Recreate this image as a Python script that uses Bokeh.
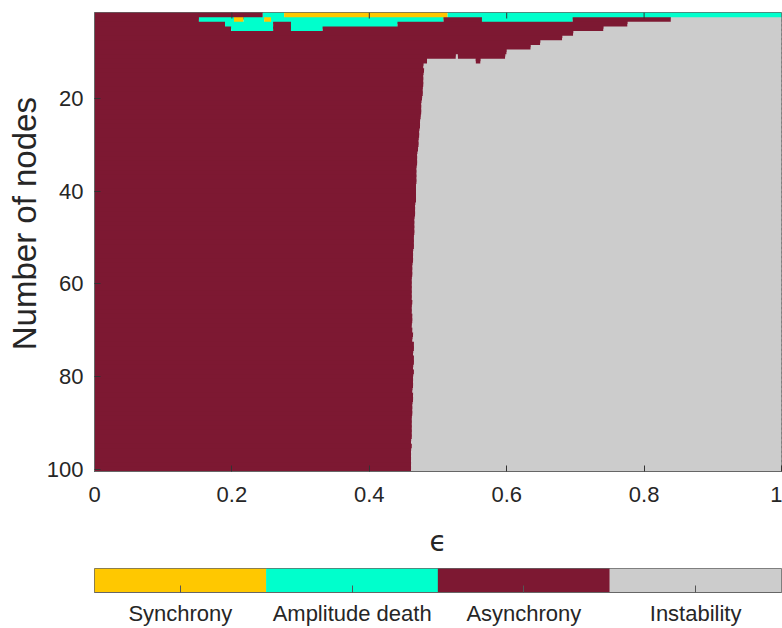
from bokeh.plotting import figure
from bokeh.models import ColumnDataSource, Range1d, FixedTicker, FactorRange
from bokeh.layouts import column
from bokeh.embed import file_html
from bokeh.resources import INLINE
from bokeh.transform import factor_cmap

# ---------------- data ----------------
states = ["Synchrony", "Amplitude death", "Asynchrony", "Instability"]
state_colors = ["#FFC800", "#00FFCC", "#7D1832", "#CCCCCC"]
SY, AD, AS, IN = 0, 1, 2, 3

x_ticks = [0, 0.2, 0.4, 0.6, 0.8, 1]
x_tick_labels = ["0", "0.2", "0.4", "0.6", "0.8", "1"]
y_ticks = [20, 40, 60, 80, 100]
N_min, N_max = 2, 100

# rows N = 2..12 : (eps_start, eps_end, state)
top_rows_N = [2, 3, 4, 5, 6, 7, 8, 9, 10, 11, 12]
top_rows_segments = [
    [(0.0, 0.245, AS), (0.245, 0.276, AD), (0.276, 0.514, SY), (0.514, 1.0, AD)],
    [(0.0, 0.152, AS), (0.152, 0.203, AD), (0.203, 0.217, SY), (0.217, 0.247, AD),
     (0.247, 0.257, SY), (0.257, 0.508, AD), (0.508, 0.564, AS), (0.564, 0.696, AD),
     (0.696, 0.839, AS), (0.839, 1.0, IN)],
    [(0.0, 0.190, AS), (0.190, 0.260, AD), (0.260, 0.286, AS), (0.286, 0.441, AD),
     (0.441, 0.776, AS), (0.776, 1.0, IN)],
    [(0.0, 0.199, AS), (0.199, 0.260, AD), (0.260, 0.286, AS), (0.286, 0.332, AD),
     (0.332, 0.741, AS), (0.741, 1.0, IN)],
    [(0.0, 0.697, AS), (0.697, 1.0, IN)],
    [(0.0, 0.681, AS), (0.681, 1.0, IN)],
    [(0.0, 0.649, AS), (0.649, 1.0, IN)],
    [(0.0, 0.635, AS), (0.635, 1.0, IN)],
    [(0.0, 0.600, AS), (0.600, 1.0, IN)],
    [(0.0, 0.526, AS), (0.526, 0.529, IN), (0.529, 0.598, AS), (0.598, 1.0, IN)],
    [(0.0, 0.484, AS), (0.484, 0.555, IN), (0.555, 0.562, AS), (0.562, 1.0, IN)],
]

# rows N = 13..100 : eps where instability starts (asynchrony below it)
lower_rows_N = list(range(13, 101))
lower_rows_boundary = [
    0.479, 0.480, 0.479, 0.479, 0.479,                      # 13-17
    0.478, 0.478, 0.477,                                     # 18-20
    0.476, 0.476, 0.476, 0.475,                              # 21-24
    0.474, 0.474, 0.473, 0.473,                              # 25-28
    0.472, 0.472, 0.471,                                     # 29-31
    0.470, 0.470, 0.470, 0.469,                              # 32-35
    0.469, 0.469, 0.469, 0.468, 0.468, 0.468, 0.468,         # 36-42
    0.467, 0.467, 0.467, 0.466, 0.466, 0.466,                # 43-48
    0.466, 0.465, 0.465, 0.465,                              # 49-52
    0.464, 0.464, 0.464, 0.463, 0.463, 0.463,                # 53-58
    0.462, 0.462, 0.462, 0.462, 0.462, 0.463, 0.462, 0.462,  # 59-66
    0.463, 0.463, 0.462, 0.463, 0.464, 0.463,                # 67-72
    0.465, 0.465, 0.464, 0.465, 0.465, 0.464, 0.465, 0.464,  # 73-80
    0.464, 0.464, 0.463, 0.464, 0.464, 0.463, 0.463, 0.463, 0.462, 0.462,  # 81-90
    0.462, 0.462, 0.462, 0.461, 0.462, 0.461, 0.461, 0.461, 0.461, 0.461,  # 91-100
]

# ---------------- build cells ----------------
# each row's cell is extended half a row downward (hidden under the next row,
# which is drawn later) so no anti-aliasing seams show between rows
left, right, top, bottom, state = [], [], [], [], []

def add_row(n, segs):
    ext = 0.5 if n < N_max else 0.0
    for a, b, s in segs:
        left.append(a); right.append(b)
        top.append(n - 0.5); bottom.append(n + 0.5 + ext)
        state.append(states[s])

for n, segs in zip(top_rows_N, top_rows_segments):
    add_row(n, segs)
for n, b in zip(lower_rows_N, lower_rows_boundary):
    add_row(n, [(0.0, b, AS), (b, 1.0, IN)])

src = ColumnDataSource(dict(left=left, right=right, top=top, bottom=bottom, state=state))

FONT = "Liberation Sans"
TXT = "#262626"
AXC = "#666666"
TICKC = "#333333"

y_lo, y_hi = N_min - 0.5, N_max + 0.5
p = figure(width=782, height=560, x_range=Range1d(0, 1), y_range=Range1d(y_hi, y_lo),
           output_backend="svg", toolbar_location=None,
           min_border_left=94, min_border_right=1, min_border_top=12, min_border_bottom=89)
cmap = factor_cmap("state", palette=state_colors, factors=states)
p.quad(left="left", right="right", top="top", bottom="bottom", source=src,
       fill_color=cmap, line_color=None)

# inner tick marks on the top edge (box style)
inner = x_ticks[1:-1]
tick_len = 1.3  # in rows
p.segment(x0=inner, x1=inner, y0=[y_lo] * len(inner), y1=[y_lo + tick_len] * len(inner),
          line_color=TICKC, line_width=1)

p.xgrid.visible = False
p.ygrid.visible = False
p.outline_line_color = AXC
p.outline_line_width = 1

p.xaxis.ticker = FixedTicker(ticks=x_ticks)
p.xaxis.major_label_overrides = {t: l for t, l in zip(x_ticks, x_tick_labels)}
p.yaxis.ticker = FixedTicker(ticks=y_ticks)
for ax in (p.xaxis[0], p.yaxis[0]):
    ax.major_tick_in = 6
    ax.major_tick_out = 0
    ax.minor_tick_line_color = None
    ax.axis_line_color = AXC
    ax.major_tick_line_color = TICKC
    ax.major_label_text_font = FONT
    ax.major_label_text_font_size = "22px"
    ax.major_label_text_color = TXT
    ax.axis_label_text_color = TXT
    ax.axis_label_text_font_style = "normal"

p.xaxis.major_label_standoff = 15
p.xaxis.axis_label = "ϵ"
p.xaxis.axis_label_text_font = "DejaVu Sans"
p.xaxis.axis_label_text_font_size = "28px"
p.xaxis.axis_label_standoff = 20

p.yaxis.major_label_standoff = 11
p.yaxis.axis_label = "\u00a0\u00a0\u00a0\u00a0Number of nodes"
p.yaxis.axis_label_text_font = FONT
p.yaxis.axis_label_text_font_size = "33px"
p.yaxis.axis_label_standoff = 1

# ---------------- colour bar ----------------
cb_src = ColumnDataSource(dict(state=states, color=state_colors))
cb = figure(width=782, height=68, x_range=FactorRange(*states), y_range=Range1d(0, 1),
            output_backend="svg", toolbar_location=None,
            min_border_left=94, min_border_right=0, min_border_top=8, min_border_bottom=36)
cb.vbar(x="state", top=1, bottom=0, width=1.002, source=cb_src,
        fill_color="color", line_color=None)
cb.xgrid.visible = False
cb.ygrid.visible = False
cb.yaxis.visible = False
cb.outline_line_color = AXC
cb.xaxis.major_tick_in = 7
cb.xaxis.major_tick_out = 0
cb.xaxis.major_tick_line_color = "#555555"
cb.xaxis.axis_line_color = AXC
cb.xaxis.major_label_text_font = FONT
cb.xaxis.major_label_text_font_size = "22px"
cb.xaxis.major_label_text_color = TXT
cb.xaxis.major_label_standoff = 8

layout = column(p, cb, spacing=0)
open("out.html", "w").write(file_html(layout, INLINE))
